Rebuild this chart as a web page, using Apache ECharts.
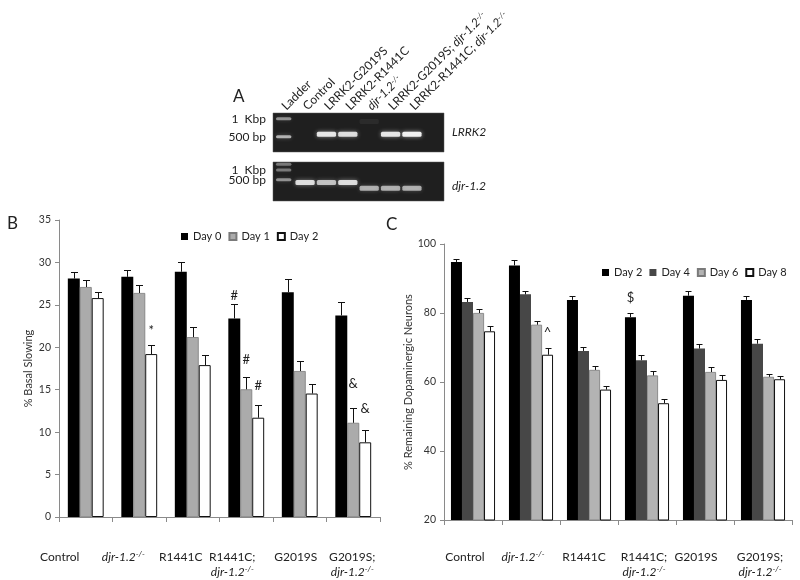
<!DOCTYPE html>
<html><head><meta charset="utf-8">
<script src="https://cdn.jsdelivr.net/npm/echarts@6/dist/echarts.min.js"></script>
<style>html,body{margin:0;padding:0;background:#fff}#c{width:800px;height:580px}</style>
</head><body><div id="c"></div>
<script>
// ---------- data ----------
const groups = ['Control', 'djr-1.2-/-', 'R1441C', 'R1441C; djr-1.2-/-', 'G2019S', 'G2019S; djr-1.2-/-'];

// Panel B: % basal slowing (mean, and top of error bar)
const daysB = ['Day 0', 'Day 1', 'Day 2'];
const slowDay0 = [28.1, 28.3, 28.9, 23.4, 26.5, 23.75];
const slowDay1 = [27.1, 26.4, 21.2, 15.05, 17.2, 11.1];
const slowDay2 = [25.8, 19.2, 17.9, 11.7, 14.55, 8.8];
const slowErr0 = [28.9, 29.1, 30.1, 25.1, 28.0, 25.3];
const slowErr1 = [27.9, 27.3, 22.4, 16.55, 18.4, 12.8];
const slowErr2 = [26.5, 20.25, 19.1, 13.2, 15.7, 10.2];
const yTicksB = [0, 35, 5];

// Panel C: % remaining dopaminergic neurons
const daysC = ['Day 2', 'Day 4', 'Day 6', 'Day 8'];
const neuDay2 = [94.8, 93.8, 83.8, 78.8, 85.0, 83.8];
const neuDay4 = [83.2, 85.4, 69.0, 66.3, 69.7, 71.1];
const neuDay6 = [80.0, 76.6, 63.5, 61.9, 62.9, 61.5];
const neuDay8 = [74.7, 67.9, 57.8, 53.85, 60.6, 60.8];
const neuErr2 = [95.7, 95.4, 85.0, 80.05, 86.3, 85.0];
const neuErr4 = [84.3, 86.5, 70.1, 67.9, 71.0, 72.4];
const neuErr6 = [81.2, 77.7, 64.7, 63.3, 64.3, 62.4];
const neuErr8 = [76.1, 69.9, 58.95, 55.2, 62.1, 61.8];
const yTicksC = [20, 100, 20];

// significance marks: [group, series, label value, symbol]
const marksB = [[1, 2, 21.9, '*'], [3, 0, 26.1, '#'], [3, 1, 18.5, '#'], [3, 2, 15.45, '#'], [5, 1, 15.7, '&'], [5, 2, 12.8, '&']];
const marksC = [[3, 0, 84.4, '$'], [1, 3, 74.2, '^']];

// Panel A: gel lanes and bands [lane, bp, intensity]
const gelLanes = ['Ladder', 'Control', 'LRRK2-G2019S', 'LRRK2-R1441C', 'djr-1.2-/-', 'LRRK2-G2019S; djr-1.2-/-', 'LRRK2-R1441C; djr-1.2-/-', ''];
const lrrk2Bands = [[0, 1000, 0.5], [0, 500, 0.65], [2, 550, 0.9], [3, 550, 0.85], [4, 900, 0.06], [5, 550, 0.9], [6, 550, 0.97]];
const djrBands = [[0, 1500, 0.4], [0, 1000, 0.4], [0, 500, 0.5], [1, 410, 0.85], [2, 410, 0.7], [3, 410, 0.85], [4, 275, 0.62], [5, 275, 0.62], [6, 275, 0.62]];
const markerBp = [1000, 500];
const markerText = ['1  Kbp', '500 bp'];

// ---------- helpers ----------
const FONT = 'Lato, "Open Sans", "DejaVu Sans", sans-serif';
const richStyles = {
  i: { fontStyle: 'italic', fontFamily: FONT, fontSize: 12, color: '#222' },
  s: { fontStyle: 'italic', fontFamily: FONT, fontSize: 8, color: '#222', verticalAlign: 'top' }
};
function richify(s, breakLine) {
  let t = s.replace('djr-1.2-/-', '{i|djr-1.2}{s|-/-}');
  if (breakLine) t = t.replace('; ', ';\n');
  return t;
}
const shiftB = [26, 16, 12, 14, 4, 1];
const shiftC = [8, 8, 5, 3, 9, 3];

function errRender(nSeries, gap, cap) {
  return function (params, api) {
    const cat = api.value(0), si = api.value(1), v = api.value(2), e = api.value(3);
    const bw = params.coordSys.width / groups.length;
    const tot = bw * (1 - gap);
    const barW = tot / nSeries;
    const p0 = api.coord([cat, v]), p1 = api.coord([cat, e]);
    const cx = Math.round(p0[0] - tot / 2 + barW * (si + 0.5)) + 0.5;
    const y1 = Math.round(p1[1]) + 0.5;
    return { type: 'group', children: [
      { type: 'line', shape: { x1: cx, y1: p0[1], x2: cx, y2: y1 }, style: { stroke: '#111', lineWidth: 1 } },
      { type: 'line', shape: { x1: cx - cap / 2, y1: y1, x2: cx + cap / 2, y2: y1 }, style: { stroke: '#111', lineWidth: 1 } }
    ]};
  };
}
function markRender(nSeries, gap, syms) {
  return function (params, api) {
    const cat = api.value(0), si = api.value(1), v = api.value(2);
    const bw = params.coordSys.width / groups.length;
    const tot = bw * (1 - gap);
    const barW = tot / nSeries;
    const p = api.coord([cat, v]);
    const cx = p[0] - tot / 2 + barW * (si + 0.5);
    return { type: 'text', x: cx, y: p[1], style: { text: syms[params.dataIndex], align: 'center', verticalAlign: 'middle', font: '13px ' + FONT, fill: '#222' } };
  };
}
function bandRender(params, api) {
  const lane = api.value(0), bp = api.value(1), a = api.value(2);
  const p = api.coord([lane, bp]);
  const bw = params.coordSys.width / gelLanes.length;
  const w = lane === 0 ? bw * 0.72 : bw * 0.9;
  const h = lane === 0 ? 3 : 5;
  return { type: 'rect', shape: { x: p[0] - w / 2, y: p[1] - h / 2, width: w, height: h, r: 1.5 },
    style: { fill: 'rgba(245,245,245,' + a + ')', shadowBlur: 4, shadowColor: 'rgba(255,255,255,' + (a * 0.6) + ')' } };
}
function markerRender(params, api) {
  const p = api.coord([0, api.value(1)]);
  return { type: 'text', x: params.coordSys.x - 7, y: p[1], style: { text: markerText[params.dataIndex], align: 'right', verticalAlign: 'middle', font: '12px ' + FONT, fill: '#222' } };
}

const gapB = 0.33, gapC = 0.24;
const barsB = [slowDay0, slowDay1, slowDay2];
const errsB = [slowErr0, slowErr1, slowErr2];
const barsC = [neuDay2, neuDay4, neuDay6, neuDay8];
const errsC = [neuErr2, neuErr4, neuErr6, neuErr8];
const styleB = [
  { color: '#000000' },
  { color: '#ababab', borderColor: '#7a7a7a', borderWidth: 0.8 },
  { color: '#ffffff', borderColor: '#111111', borderWidth: 1 }
];
const styleC = [
  { color: '#000000' },
  { color: '#474747' },
  { color: '#b3b3b3', borderColor: '#7a7a7a', borderWidth: 0.8 },
  { color: '#ffffff', borderColor: '#111111', borderWidth: 1 }
];

const errDataB = [], errDataC = [];
errsB.forEach((arr, si) => arr.forEach((e, ci) => errDataB.push([ci, si, barsB[si][ci], e])));
errsC.forEach((arr, si) => arr.forEach((e, ci) => errDataC.push([ci, si, barsC[si][ci], e])));

const axisLineStyle = { lineStyle: { color: '#8a8a8a', width: 1 } };
function catAxis(grid, shifts, margin) {
  return {
    type: 'category', gridIndex: grid,
    data: groups.map((g, i) => ({ value: g, textStyle: { padding: [0, shifts[i] * 2, 0, 0] } })),
    axisLine: axisLineStyle,
    axisTick: { show: true, length: 5, lineStyle: { color: '#8a8a8a' }, interval: 0 },
    axisLabel: { interval: 0, margin: margin, verticalAlign: 'middle', lineHeight: 15, fontSize: 12, fontFamily: FONT, color: '#222',
      formatter: v => richify(v, true), rich: richStyles }
  };
}
function valAxis(grid, t, name, gap) {
  return {
    type: 'value', gridIndex: grid, min: t[0], max: t[1], interval: t[2],
    splitLine: { show: false },
    axisLine: { show: true, lineStyle: { color: '#8a8a8a' } },
    axisTick: { show: true, length: 4, lineStyle: { color: '#8a8a8a' } },
    axisLabel: { margin: 8, fontSize: 10.5, fontFamily: FONT, color: '#333' },
    name: name, nameLocation: 'middle', nameGap: gap,
    nameTextStyle: { fontSize: 11, fontFamily: FONT, color: '#333' }
  };
}

const series = [];
barsB.forEach((d, i) => series.push({ type: 'bar', name: 'B|' + daysB[i], xAxisIndex: 0, yAxisIndex: 0, data: d,
  barGap: '0%', barCategoryGap: (gapB * 100) + '%', itemStyle: styleB[i], emphasis: { disabled: true } }));
barsC.forEach((d, i) => series.push({ type: 'bar', name: 'C|' + daysC[i], xAxisIndex: 1, yAxisIndex: 1, data: d,
  barGap: '0%', barCategoryGap: (gapC * 100) + '%', itemStyle: styleC[i], emphasis: { disabled: true } }));
series.push({ type: 'custom', xAxisIndex: 0, yAxisIndex: 0, data: errDataB, encode: { x: 0, y: 3 }, renderItem: errRender(3, gapB, 7), z: 5, silent: true });
series.push({ type: 'custom', xAxisIndex: 1, yAxisIndex: 1, data: errDataC, encode: { x: 0, y: 3 }, renderItem: errRender(4, gapC, 6), z: 5, silent: true });
series.push({ type: 'custom', xAxisIndex: 0, yAxisIndex: 0, data: marksB.map(m => [m[0], m[1], m[2]]), encode: { x: 0, y: 2 }, renderItem: markRender(3, gapB, marksB.map(m => m[3])), z: 6, silent: true });
series.push({ type: 'custom', xAxisIndex: 1, yAxisIndex: 1, data: marksC.map(m => [m[0], m[1], m[2]]), encode: { x: 0, y: 2 }, renderItem: markRender(4, gapC, marksC.map(m => m[3])), z: 6, silent: true });
series.push({ type: 'custom', xAxisIndex: 2, yAxisIndex: 2, data: lrrk2Bands, encode: { x: 0, y: 1 }, renderItem: bandRender, silent: true });
series.push({ type: 'custom', xAxisIndex: 3, yAxisIndex: 3, data: djrBands, encode: { x: 0, y: 1 }, renderItem: bandRender, silent: true });
series.push({ type: 'custom', xAxisIndex: 2, yAxisIndex: 2, data: markerBp.map(b => [0, b]), encode: { x: 0, y: 1 }, renderItem: markerRender, silent: true, clip: false });
series.push({ type: 'custom', xAxisIndex: 3, yAxisIndex: 3, data: markerBp.map(b => [0, b]), encode: { x: 0, y: 1 }, renderItem: markerRender, silent: true, clip: false });

const gelGrid = (top) => ({ left: 273, top: top, width: 171, height: 39, show: true, backgroundColor: '#1f1f1f', borderColor: '#5a5a5a', borderWidth: 0.5 });

const option = {
  animation: false,
  backgroundColor: '#fff',
  textStyle: { fontFamily: FONT },
  grid: [
    { left: 59, top: 220, width: 321, height: 303 },
    { left: 444, top: 244, width: 348, height: 282 },
    gelGrid(113),
    gelGrid(162)
  ],
  xAxis: [
    catAxis(0, shiftB, 33),
    catAxis(1, shiftC, 30),
    { type: 'category', gridIndex: 2, position: 'top', data: gelLanes,
      axisLine: { show: false }, axisTick: { show: false },
      axisLabel: { interval: 0, rotate: -45, align: 'left', verticalAlign: 'middle', margin: 5, fontSize: 12, fontFamily: FONT, color: '#222',
        formatter: v => richify(v, false), rich: richStyles } },
    { type: 'category', gridIndex: 3, data: gelLanes, show: false }
  ],
  yAxis: [
    valAxis(0, yTicksB, '% Basal Slowing', 25),
    valAxis(1, yTicksC, '% Remaining Dopaminergic Neurons', 27),
    { type: 'log', gridIndex: 2, min: 278, max: 1250, show: false },
    { type: 'log', gridIndex: 3, min: 111, max: 1771, show: false }
  ],
  legend: [
    { data: daysB.map(d => 'B|' + d), left: 181, top: 231, padding: 0, width: 200, icon: 'rect', itemWidth: 7, itemHeight: 7, itemGap: 7,
      selectedMode: false, formatter: n => n.split('|')[1], textStyle: { fontSize: 11, fontFamily: FONT, color: '#222' } },
    { data: daysC.map(d => 'C|' + d), left: 602, top: 267, padding: 0, width: 198, icon: 'rect', itemWidth: 7, itemHeight: 7, itemGap: 7,
      selectedMode: false, formatter: n => n.split('|')[1], textStyle: { fontSize: 11, fontFamily: FONT, color: '#222' } }
  ],
  graphic: [
    { type: 'text', left: 233, top: 88, style: { text: 'A', font: '17px ' + FONT, fill: '#222' } },
    { type: 'text', left: 7, top: 215, style: { text: 'B', font: '17px ' + FONT, fill: '#222' } },
    { type: 'text', left: 386, top: 216, style: { text: 'C', font: '17px ' + FONT, fill: '#222' } },
    { type: 'text', left: 452, top: 126, style: { text: 'LRRK2', font: 'italic 12px ' + FONT, fill: '#222' } },
    { type: 'text', left: 452, top: 180, style: { text: 'djr-1.2', font: 'italic 12px ' + FONT, fill: '#222' } }
  ],
  series: series
};
const chart = echarts.init(document.getElementById('c'), null, { renderer: 'canvas' });
chart.setOption(option);
</script></body></html>
